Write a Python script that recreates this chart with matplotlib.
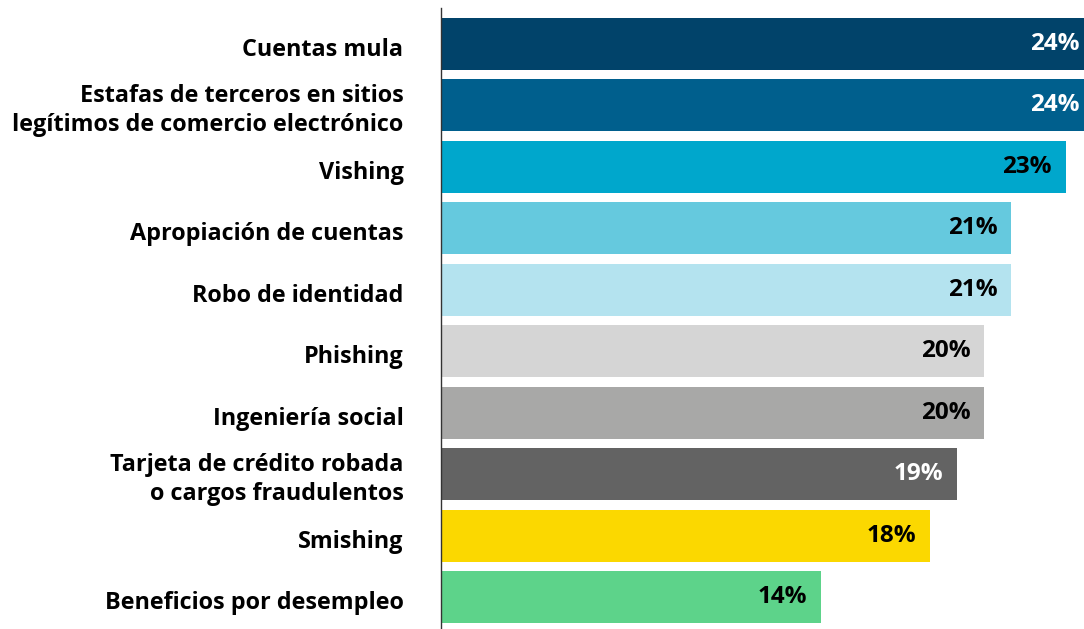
import numpy as np
import matplotlib.pyplot as plt
import matplotlib.transforms as mtransforms

# datos del gráfico
categorias = [
    "Cuentas mula",
    "Estafas de terceros en sitios\nlegítimos de comercio electrónico",
    "Vishing",
    "Apropiación de cuentas",
    "Robo de identidad",
    "Phishing",
    "Ingeniería social",
    "Tarjeta de crédito robada\no cargos fraudulentos",
    "Smishing",
    "Beneficios por desempleo",
]
valores = [24, 24, 23, 21, 21, 20, 20, 19, 18, 14]
colores = ["#01436a", "#005f8d", "#00a7cc", "#65c9de", "#b4e3ef",
           "#d5d5d5", "#a8a8a7", "#636363", "#fbd800", "#5dd38a"]
color_texto = ["white", "white", "black", "black", "black",
               "black", "black", "white", "black", "black"]

plt.rcParams['font.family'] = ['Open Sans', 'DejaVu Sans']

fig = plt.figure(figsize=(10.84, 6.29), dpi=100)
ax = fig.add_axes([441 / 1084, 0, 643 / 1084, 621 / 629])

y = np.arange(len(valores))
ax.barh(y, valores, height=0.846, color=colores)

for i, v in enumerate(valores):
    ax.text(v - 0.5, i, f"{v}%", ha="right", va="center",
            fontsize=17.5, fontweight="bold", color=color_texto[i])

ax.set_yticks(y)
ax.set_yticklabels(categorias, fontsize=16.8, fontweight="bold",
                   linespacing=1.25)
ax.tick_params(axis="y", length=0, pad=27)
ax.set_xticks([])

# las etiquetas de una sola línea quedan un poco más abajo
bajar = mtransforms.ScaledTranslation(0, -3 / 100, fig.dpi_scale_trans)
for lab in ax.get_yticklabels():
    if "\n" not in lab.get_text():
        lab.set_transform(lab.get_transform() + bajar)

ax.set_xlim(0, 23.68)
ax.set_ylim(9.52, -0.585)

for s in ["top", "right", "bottom"]:
    ax.spines[s].set_visible(False)
ax.spines["left"].set_color("#333333")
ax.spines["left"].set_linewidth(1.0)

fig.savefig("out.png", dpi=100)
